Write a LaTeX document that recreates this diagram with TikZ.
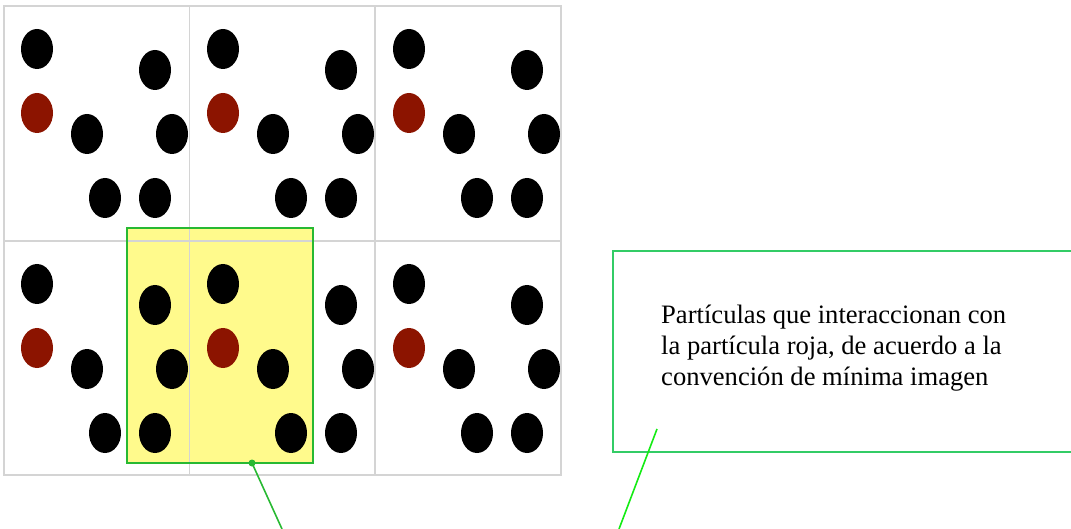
\documentclass[tikz,border=0pt]{standalone}
\usepackage{fontspec}
\setmainfont{Liberation Serif}
\usetikzlibrary{shapes.geometric}
\definecolor{gridgray}{RGB}{212,212,212}
\definecolor{boxgreen}{RGB}{51,204,102}
\definecolor{rectgreen}{RGB}{40,185,50}
\definecolor{linegreen}{RGB}{20,235,20}
\definecolor{hiyellow}{RGB}{255,250,140}
\definecolor{partred}{RGB}{140,20,0}
\begin{document}
\begin{tikzpicture}[x=1pt,y=-1pt,
  gridline/.style={draw=gridgray,line width=1.6pt},
  particle/.style={ellipse,inner sep=0pt,minimum width=32pt,minimum height=40pt,draw=none},
  blk/.style={particle,fill=black},
  redp/.style={particle,fill=partred},
  notebox/.style={draw=boxgreen,line width=1.6pt},
  leader/.style={line width=1.6pt}]
\useasboundingbox (0,0) rectangle (1071,529);
% highlighted region (fill under grid)
\fill[hiyellow] (127,228) rectangle (313,463);
% grid
\draw[gridline] (4,6) rectangle (561,475);
\draw[gridline] (189.5,6) -- (189.5,475);
\draw[gridline] (375,6) -- (375,475);
\draw[gridline] (4,241) -- (561,241);
% particles
\foreach \c/\dx in {1/0,2/186,3/372}{
  \foreach \r/\dy in {1/0,2/235}{
    \node[blk]  (b1-\c-\r) at (37+\dx,49+\dy) {};
    \node[blk]  (b2-\c-\r) at (155+\dx,70+\dy) {};
    \node[redp] (red-\c-\r) at (37+\dx,113+\dy) {};
    \node[blk]  (b3-\c-\r) at (87+\dx,134+\dy) {};
    \node[blk]  (b4-\c-\r) at (172+\dx,134+\dy) {};
    \node[blk]  (b5-\c-\r) at (105+\dx,198+\dy) {};
    \node[blk]  (b6-\c-\r) at (155+\dx,198+\dy) {};
  }
}
% highlight border
\node[draw=rectgreen,line width=1.6pt,inner sep=0pt,minimum width=186pt,minimum height=235pt] (hi) at (220,345.5) {};
% note box
\node[notebox,inner sep=0pt,minimum width=470pt,minimum height=201pt] (note) at (848,351.5) {};
\node[inner sep=0pt,anchor=base west,align=left,font=\fontsize{26.6}{31}\selectfont] (notetext) at (661,385)
  {Partículas que interaccionan con\\la partícula roja, de acuerdo a la\\convención de mínima imagen};
% leaders
\coordinate (hidot) at (252,463);
\coordinate (end1) at (282,529);
\coordinate (start2) at (657,429);
\coordinate (end2) at (619,529);
\fill[rectgreen] (hidot) circle (3.5pt);
\draw[leader,rectgreen] (hidot) -- (end1);
\draw[leader,linegreen] (start2) -- (end2);
\end{tikzpicture}
\end{document}
